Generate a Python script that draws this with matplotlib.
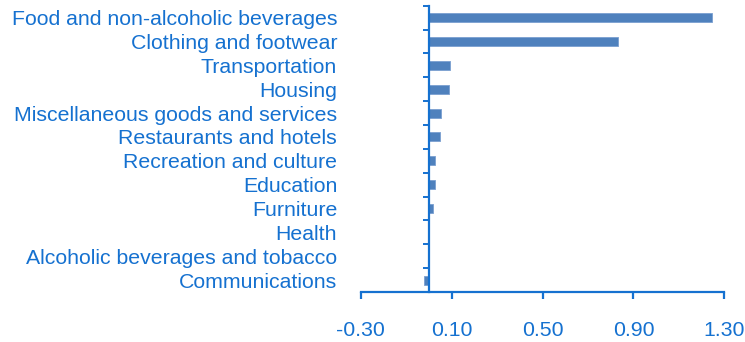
import matplotlib
matplotlib.use('Agg')
import matplotlib.pyplot as plt
import numpy as np

plt.rcParams['font.family'] = ['Liberation Sans', 'DejaVu Sans']

categories = ['Food and non-alcoholic beverages', 'Clothing and footwear',
              'Transportation', 'Housing', 'Miscellaneous goods and services',
              'Restaurants and hotels', 'Recreation and culture', 'Education',
              'Furniture', 'Health', 'Alcoholic beverages and tobacco',
              'Communications']
values = [1.246, 0.833, 0.094, 0.088, 0.052, 0.047, 0.025, 0.025, 0.017,
          0.0, 0.0, -0.021]
xticks = [-0.30, 0.10, 0.50, 0.90, 1.30]

blue = '#1571D0'
bar_color = '#4F81BD'

fig = plt.figure(figsize=(7.45, 3.42), dpi=100)
ax = fig.add_axes([0.4842, 0.1462, 0.488, 0.8371])

pos = np.arange(len(categories))
ax.barh(pos, values, height=0.38, color=bar_color, edgecolor='#7A9FD0',
        linewidth=0.6, zorder=2)

ax.set_xlim(xticks[0], xticks[-1])
ax.set_ylim(len(categories) - 0.5, -0.5)

# y axis sits at x=0, labels pushed out to the left edge
ax.spines['left'].set_position(('data', 0))
ax.spines['left'].set_color(blue)
ax.spines['left'].set_linewidth(1.6)
ax.spines['bottom'].set_color(blue)
ax.spines['bottom'].set_linewidth(1.6)
ax.spines['top'].set_visible(False)
ax.spines['right'].set_visible(False)

ax.set_yticks(np.arange(len(categories) + 1) - 0.5)
ax.set_yticklabels([])
ax.set_yticks(pos, minor=True)
ax.set_yticklabels(categories, minor=True)
ax.tick_params(axis='y', which='major', length=4.5, width=1.4, color=blue,
               direction='out')
ax.tick_params(axis='y', which='minor', length=0, pad=66, labelsize=15.3,
               labelcolor=blue)

ax.set_xticks(xticks)
ax.set_xticklabels(['%.2f' % v for v in xticks])
ax.tick_params(axis='x', length=5, width=1.6, color=blue, direction='out',
               pad=16, labelsize=15.3, labelcolor=blue)

fig.savefig('out.png', dpi=100)
